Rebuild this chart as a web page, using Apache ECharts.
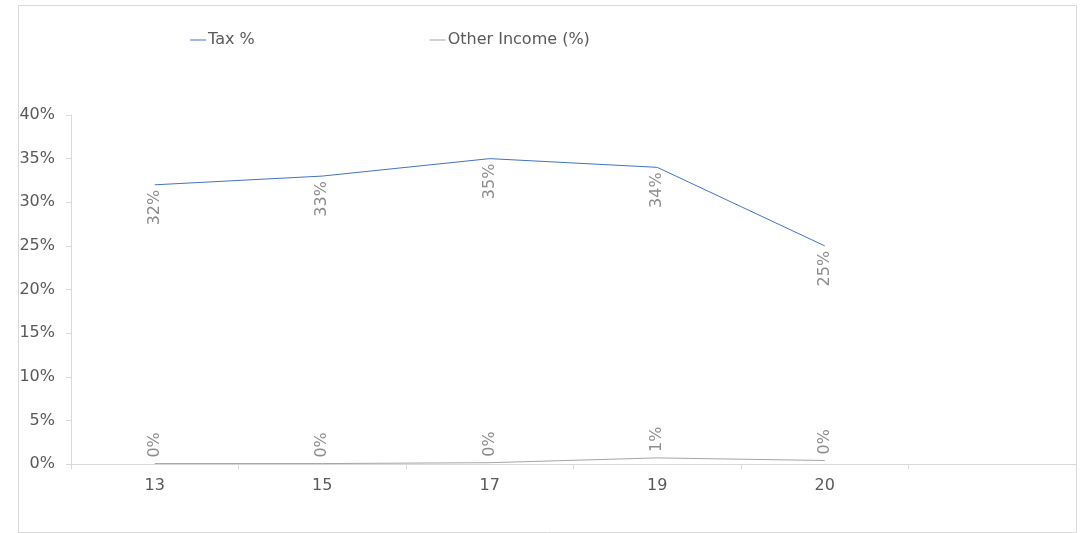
<!DOCTYPE html>
<html>
<head>
<meta charset="utf-8">
<script src="https://cdn.jsdelivr.net/npm/echarts@6/dist/echarts.min.js"></script>
<style>
  html, body { margin: 0; padding: 0; background: #fff; }
  #chart { width: 1092px; height: 533px; }
</style>
</head>
<body>
<div id="chart"></div>
<script>
// categories (last slot is empty on the original axis)
var categories = ['13', '15', '17', '19', '20', '']
var taxPct = [32, 33, 35, 34, 25]
var otherIncomePct = [0.05, 0.05, 0.15, 0.7, 0.4]
var seriesNames = ['Tax %', 'Other Income (%)']
var colors = ['#4472C4', '#A5A5A5']

var font = 'DejaVu Sans'
var chart = echarts.init(document.getElementById('chart'))

chart.setOption({
  animation: false,
  textStyle: { fontFamily: font },
  graphic: [{
    type: 'rect',
    shape: { x: 18.5, y: 5.5, width: 1058, height: 527 },
    style: { fill: 'none', stroke: '#d9d9d9', lineWidth: 1 },
    silent: true
  }],
  legend: {
    left: 190,
    top: 32,
    padding: 0,
    icon: 'rect',
    itemWidth: 16,
    itemHeight: 1,
    itemGap: 175,
    textStyle: { color: '#595959', fontSize: 16, fontFamily: font, padding: [0, 0, 0, -3] },
    data: seriesNames
  },
  grid: {
    left: 71,
    right: 16,
    top: 115,
    bottom: 69,
    containLabel: false
  },
  xAxis: {
    type: 'category',
    data: categories,
    boundaryGap: true,
    axisLine: { lineStyle: { color: '#d9d9d9' } },
    axisTick: { show: true, length: 5, lineStyle: { color: '#d9d9d9' } },
    axisLabel: { color: '#595959', fontSize: 16, margin: 14, fontFamily: font }
  },
  yAxis: {
    type: 'value',
    min: 0,
    max: 40,
    interval: 5,
    splitLine: { show: false },
    axisLine: { show: true, lineStyle: { color: '#d9d9d9' } },
    axisTick: { show: true, length: 5, lineStyle: { color: '#d9d9d9' } },
    axisLabel: { color: '#595959', fontSize: 16, margin: 16, formatter: '{value}%', fontFamily: font }
  },
  series: [{
    name: seriesNames[0],
    type: 'line',
    data: taxPct,
    showSymbol: true,
    symbol: 'circle',
    symbolSize: 0,
    itemStyle: { color: colors[0] },
    lineStyle: { color: colors[0], width: 1 },
    label: {
      show: true,
      position: 'bottom',
      distance: 5,
      rotate: 90,
      align: 'right',
      verticalAlign: 'middle',
      color: '#8c8c8c',
      fontSize: 16,
      fontFamily: font,
      formatter: function (p) { return Math.round(p.value) + '%' }
    }
  }, {
    name: seriesNames[1],
    type: 'line',
    data: otherIncomePct,
    showSymbol: true,
    symbol: 'circle',
    symbolSize: 0,
    itemStyle: { color: colors[1] },
    lineStyle: { color: colors[1], width: 1 },
    label: {
      show: true,
      position: 'top',
      distance: 6,
      rotate: 90,
      align: 'left',
      verticalAlign: 'middle',
      color: '#8c8c8c',
      fontSize: 16,
      fontFamily: font,
      formatter: function (p) { return Math.round(p.value) + '%' }
    }
  }]
})
</script>
</body>
</html>
